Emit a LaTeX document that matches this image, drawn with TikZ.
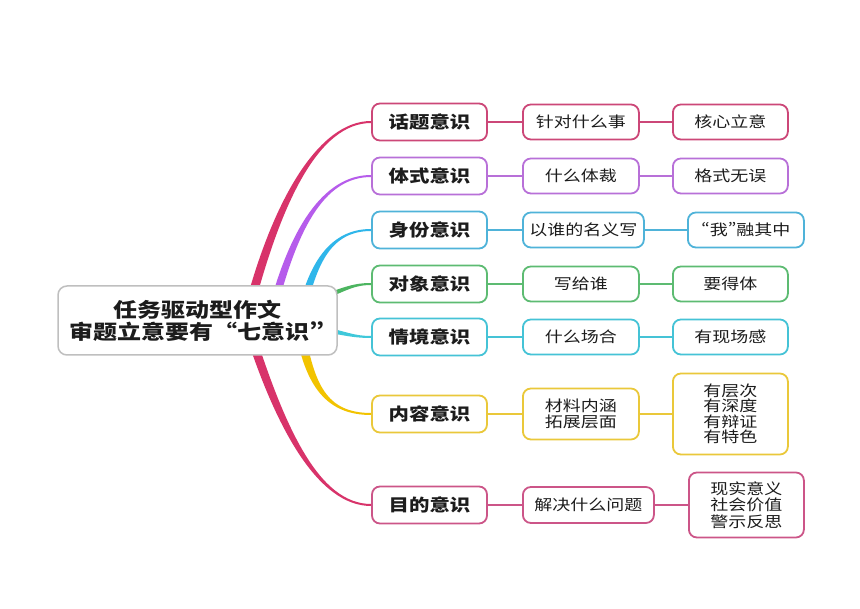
\documentclass[tikz,border=0pt]{standalone}
\usepackage{fontspec}
\usetikzlibrary{calc,backgrounds}
\newfontfamily\cjk[FakeStretch=1.2]{Noto Sans CJK SC}
\newfontfamily\cjkq[FakeStretch=1.2,RawFeature=+pwid]{Noto Sans CJK SC}
\definecolor{cTopic}{HTML}{CC4778}
\definecolor{bTopic}{HTML}{D8336A}
\definecolor{cPurp}{HTML}{B870D8}
\definecolor{bPurp}{HTML}{B65CEB}
\definecolor{cBlue}{HTML}{4FB3D9}
\definecolor{bBlue}{HTML}{2FB6EA}
\definecolor{cGreen}{HTML}{5DBB72}
\definecolor{bGreen}{HTML}{4CB560}
\definecolor{cCyan}{HTML}{45C3D6}
\definecolor{bCyan}{HTML}{3FC8DA}
\definecolor{cYell}{HTML}{EAC83A}
\definecolor{bYell}{HTML}{F2C300}
\definecolor{cAim}{HTML}{CC5588}
\definecolor{txt}{HTML}{1C1C1C}
\newcommand\mmbranch[7]{%
  \coordinate (bq0) at #2; \coordinate (bq1) at #3;
  \coordinate (bq2) at #4; \coordinate (bq3) at #5;
  \fill[#1] ($(bq0)!#6!90:(bq1)$) .. controls ($(bq1)!#6!-90:(bq0)$) and ($(bq2)!#7!90:(bq3)$) .. ($(bq3)!#7!-90:(bq2)$)
    -- ($(bq3)!#7!90:(bq2)$) .. controls ($(bq2)!#7!-90:(bq3)$) and ($(bq1)!#6!90:(bq0)$) .. ($(bq0)!#6!-90:(bq1)$) -- cycle;
}
\tikzset{
  boxbase/.style={draw, rounded corners=8pt, fill=white, line width=1.8pt, align=center, inner sep=0pt, text=txt},
  lone/.style={boxbase, minimum width=115pt, minimum height=37pt, font=\cjk\bfseries\fontsize{17}{19}\selectfont},
  ltwo/.style={boxbase, anchor=west, minimum width=116pt, minimum height=35pt, font=\cjk\fontsize{15}{16}\selectfont},
  hub/.style={draw=black!25, line width=1.5pt, rounded corners=9pt, fill=white, minimum width=279pt, minimum height=69pt,
    inner sep=0pt, align=center, text=txt, font=\cjk\bfseries\fontsize{20}{22}\selectfont},
  link/.style={line width=2.1pt}
}
\begin{document}
\begin{tikzpicture}[x=1pt,y=-1pt]
\useasboundingbox (0,0) rectangle (860,609);
% centre
\node[hub] (c) at (197.5,320.5) {任务驱动型作文\\审题立意要有“七意识{\cjkq ”}};
% level 1
\node[lone, draw=cTopic] (t1) at (429.5,122) {话题意识};
\node[lone, draw=cPurp] (t2) at (429.5,176) {体式意识};
\node[lone, draw=cBlue] (t3) at (429.5,230) {身份意识};
\node[lone, draw=cGreen] (t4) at (429.5,284) {对象意识};
\node[lone, draw=cCyan] (t5) at (429.5,337) {情境意识};
\node[lone, draw=cYell] (t6) at (429.5,414) {内容意识};
\node[lone, draw=cAim] (t7) at (429.5,505) {目的意识};
% level 2
\node[ltwo, draw=cTopic] (s1) at (522,122) {针对什么事};
\node[ltwo, draw=cPurp] (s2) at (522,176) {什么体裁};
\node[ltwo, draw=cBlue, minimum width=121pt] (s3) at (522,230) {以谁的名义写};
\node[ltwo, draw=cGreen] (s4) at (522,284) {写给谁};
\node[ltwo, draw=cCyan] (s5) at (522,337) {什么场合};
\node[ltwo, draw=cYell, minimum height=51pt, font=\cjk\fontsize{15}{15.5}\selectfont] (s6) at (522,414) {材料内涵\\拓展层面};
\node[ltwo, draw=cAim, minimum width=131pt, minimum height=36pt] (s7) at (522,505) {解决什么问题};
% level 3
\node[ltwo, draw=cTopic, minimum width=115pt] (r1) at (672,122) {核心立意};
\node[ltwo, draw=cPurp, minimum width=115pt] (r2) at (672,176) {格式无误};
\node[ltwo, draw=cBlue] (r3) at (687,230) {{\cjkq “}我{\cjkq ”}融其中};
\node[ltwo, draw=cGreen, minimum width=115pt] (r4) at (672,284) {要得体};
\node[ltwo, draw=cCyan, minimum width=115pt] (r5) at (672,337) {有现场感};
\node[ltwo, draw=cYell, minimum width=115pt, minimum height=81pt, font=\cjk\fontsize{15}{15.5}\selectfont] (r6) at (672,414) {有层次\\有深度\\有辩证\\有特色};
\node[ltwo, draw=cAim, minimum width=115pt, minimum height=65pt, font=\cjk\fontsize{15}{16.5}\selectfont] (r7) at (688,505) {现实意义\\社会价值\\警示反思};
% links
\draw[link, cTopic] (t1.east) -- (s1.west);
\draw[link, cTopic] (s1.east) -- (r1.west);
\draw[link, cPurp] (t2.east) -- (s2.west);
\draw[link, cPurp] (s2.east) -- (r2.west);
\draw[link, cBlue] (t3.east) -- (s3.west);
\draw[link, cBlue] (s3.east) -- (r3.west);
\draw[link, cGreen] (t4.east) -- (s4.west);
\draw[link, cGreen] (s4.east) -- (r4.west);
\draw[link, cCyan] (t5.east) -- (s5.west);
\draw[link, cCyan] (s5.east) -- (r5.west);
\draw[link, cYell] (t6.east) -- (s6.west);
\draw[link, cYell] (s6.east) -- (r6.west);
\draw[link, cAim] (t7.east) -- (s7.west);
\draw[link, cAim] (s7.east) -- (r7.west);
% tapered branches
\begin{scope}[on background layer]
\fill[white] (0,0) rectangle (860,609);
\mmbranch{bTopic}{(246,320)}{(276,200)}{($(t1.west)+(-52,0)$)}{(t1.west)}{4.5pt}{1pt}
\mmbranch{bPurp}{(270,320)}{(292,230)}{($(t2.west)+(-48,0)$)}{(t2.west)}{4pt}{1pt}
\mmbranch{bBlue}{(300,320)}{(312,262)}{($(t3.west)+(-40,0)$)}{(t3.west)}{4pt}{1pt}
\mmbranch{bGreen}{(315,300)}{(342,291)}{($(t4.west)+(-20,0)$)}{(t4.west)}{2.5pt}{1pt}
\mmbranch{bCyan}{(315,328)}{(342,332)}{($(t5.west)+(-20,0)$)}{(t5.west)}{2.5pt}{1pt}
\mmbranch{bYell}{(300,330)}{(310,385)}{($(t6.west)+(-45,0)$)}{(t6.west)}{4.5pt}{1pt}
\mmbranch{bTopic}{(246,320)}{(280,430)}{($(t7.west)+(-52,0)$)}{(t7.west)}{4.5pt}{1pt}
\end{scope}
\end{tikzpicture}
\end{document}
